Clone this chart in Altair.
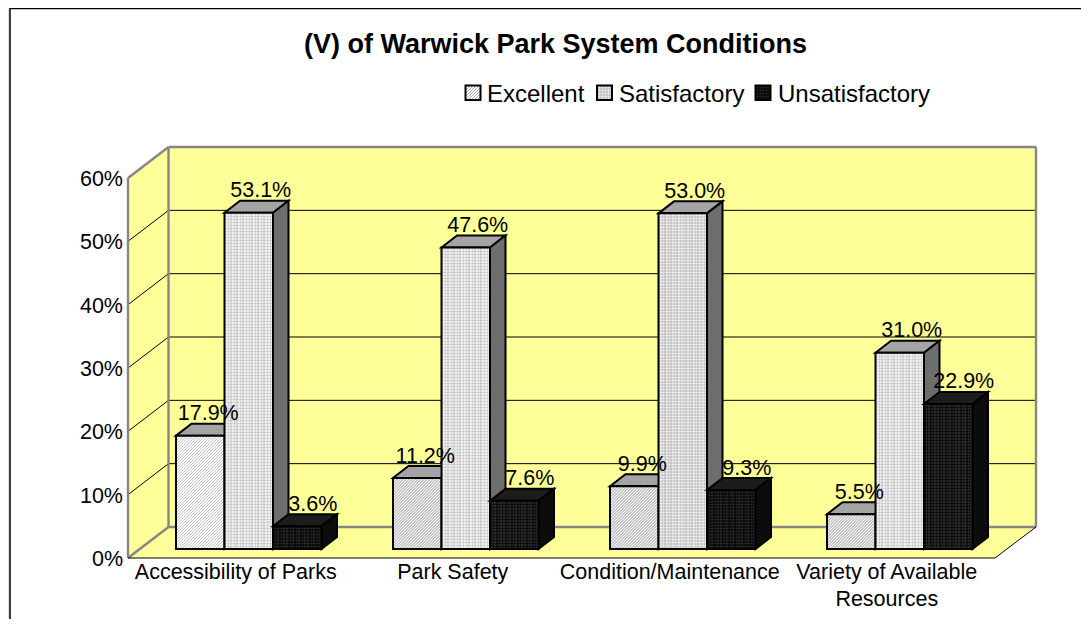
import math
import altair as alt
import pandas as pd

categories = ["Accessibility of Parks", "Park Safety", "Condition/Maintenance", "Variety of Available\nResources"]
series = ["Excellent", "Satisfactory", "Unsatisfactory"]
excellent = [17.9, 11.2, 9.9, 5.5]
satisfactory = [53.1, 47.6, 53.0, 31.0]
unsatisfactory = [3.6, 7.6, 9.3, 22.9]
ticks = [0, 10, 20, 30, 40, 50, 60]
title_text = "(V) of Warwick Park System Conditions"

W, H = 1073, 611
PX_X, PX_Y = 217.0, 6.333            # pixels per group, pixels per percent
x_scale = alt.Scale(domain=[-168 / PX_X, (W - 168) / PX_X], nice=False, zero=False)
y_scale = alt.Scale(domain=[(541 - H) / PX_Y, 541 / PX_Y], nice=False, zero=False)

BAR_W = 48.5 / PX_X
DEPTH_X, DEPTH_Y = 15.5 / PX_X, 12 / PX_Y
FL, BL, FR, BR = -48 / PX_X, -7.5 / PX_X, 819 / PX_X, 860 / PX_X
F0, B0 = -9 / PX_Y, 22 / PX_Y
YELLOW = "#FFFF99"
GREY = "#868686"
FONT = "Liberation Sans"


def X(): return alt.X("x:Q", scale=x_scale, axis=None)
def Y(): return alt.Y("y:Q", scale=y_scale, axis=None)
def Y2(): return alt.Y2("y2:Q")
def X2(): return alt.X2("x2:Q")


def stripe_stops(length, period, a, b):
    stops = []
    n = math.ceil(length / period)
    for k in range(n):
        o0, o1, o2 = k * period / length, (k + .5) * period / length, (k + 1) * period / length
        for off, col in ((o0, a), (o1, a), (o1, b), (o2, b)):
            stops.append({"offset": round(min(off, 1), 5), "color": col})
    return stops


def diag(w, h, a, b):
    k = (w + h) / (w * w + h * h)
    return {"gradient": "linear", "x1": 0, "y1": 0, "x2": round(k * w, 6), "y2": round(k * h, 6),
            "stops": stripe_stops(w + h, 3, a, b)}


def vert(w, a, b):
    return {"gradient": "linear", "x1": 0, "y1": 0, "x2": 1, "y2": 0, "stops": stripe_stops(w, 3, a, b)}


def horiz(h, a, b):
    return {"gradient": "linear", "x1": 0, "y1": 0, "x2": 0, "y2": 1, "stops": stripe_stops(h, 3, a, b)}


def box(x0, x1, y0, y1, **mark):
    d = pd.DataFrame({"x": [x0], "x2": [x1], "y": [y0], "y2": [y1]})
    return alt.Chart(d).mark_rect(**mark).encode(x=X(), x2=X2(), y=Y(), y2=Y2())


def poly(points, fill, stroke=None, sw=2):
    d = pd.DataFrame(points, columns=["x", "y", "y2"])
    kw = {"fill": fill, "opacity": 1, "strokeJoin": "miter"}
    if stroke:
        kw.update(stroke=stroke, strokeWidth=sw)
    return alt.Chart(d).mark_area(**kw).encode(x=X(), y=Y(), y2=Y2())


def seg(x0, y0, x1, y1, color, sw):
    d = pd.DataFrame({"x": [x0, x1], "y": [y0, y1]})
    return alt.Chart(d).mark_line(color=color, strokeWidth=sw, clip=False).encode(
        x=X(), y=Y(), order=alt.Order("o:Q")).transform_calculate(o="datum.x")


def fills(j, w, h):
    """Patterned layers of one front face (px size w×h)."""
    if j == 0:
        return [diag(w, h, "#fafafa", "#c6c6c6")]
    if j == 1:
        return ["#f0f0f0", vert(w, "rgba(140,140,140,0.24)", "rgba(140,140,140,0)"),
                horiz(h, "rgba(140,140,140,0.24)", "rgba(140,140,140,0)")]
    return ["#2a2a2a", vert(w, "rgba(0,0,0,0.5)", "rgba(0,0,0,0)"), horiz(h, "rgba(0,0,0,0.5)", "rgba(0,0,0,0)")]


TOP = ["#a4a4a4", "#a4a4a4", "#1c1c1c"]
SIDE = ["#6e6e6e", "#6e6e6e", "#0c0c0c"]
LABEL_DX = [8, 12, 15.5]

layers = []
# walls
layers.append(poly([(FL, 60 + F0, F0), (BL, 60 + B0, B0)], YELLOW))
layers.append(poly([(FL, F0, F0), (BL, B0, F0), (FR, B0, F0), (BR, B0, B0)], YELLOW))
layers.append(box(BL, BR, B0, 60 + B0, fill=YELLOW))
# gridlines
for t in ticks[1:-1]:
    layers.append(seg(BL, t + B0, BR, t + B0, "#000000", 1))
    layers.append(seg(FL, t + F0, BL, t + B0, "#000000", 1))
# wall edges
for a in [(FL, 60 + F0, BL, 60 + B0), (FL, F0, BL, B0), (FL, F0, FL, 60 + F0), (BL, B0, BL, 60 + B0),
          (BL, 60 + B0, BR, 60 + B0), (BR, B0, BR, 60 + B0), (BL, B0, BR, B0)]:
    layers.append(seg(a[0], a[1], a[2], a[3], GREY, 2.4))
layers.append(seg(FL, F0, FR, F0, "#000000", 1))
layers.append(seg(FR, F0, BR, B0, "#000000", 1))

# bars
all_values = [excellent, satisfactory, unsatisfactory]
for i in range(len(categories)):
    for j, vals in enumerate(all_values):
        v = vals[i]
        x0 = i + j * BAR_W
        x1 = x0 + BAR_W
        layers.append(poly([(x0, v, v), (x0 + DEPTH_X, v + DEPTH_Y, v), (x1, v + DEPTH_Y, v),
                            (x1 + DEPTH_X, v + DEPTH_Y, v + DEPTH_Y)], TOP[j], "#000000"))
        layers.append(poly([(x1, v, 0), (x1 + DEPTH_X, v + DEPTH_Y, DEPTH_Y)], SIDE[j], "#000000"))
        for f in fills(j, BAR_W * PX_X, v * PX_Y):
            layers.append(box(x0, x1, 0, v, fill=f))
        layers.append(box(x0, x1, 0, v, fillOpacity=0, fill="#ffffff", stroke="#000000", strokeWidth=2))

# value labels
for j, vals in enumerate(all_values):
    d = pd.DataFrame({"x": [i + (j + .5) * BAR_W for i in range(len(vals))],
                      "y": [v + DEPTH_Y for v in vals],
                      "t": [f"{v:.1f}%" for v in vals]})
    layers.append(alt.Chart(d).mark_text(font=FONT, fontSize=21.5, color="#000000", baseline="alphabetic",
                                         dx=LABEL_DX[j], dy=-3.5).encode(x=X(), y=Y(), text="t:N"))

# tick labels
d = pd.DataFrame({"x": [FL] * len(ticks), "y": [t + F0 for t in ticks], "t": [f"{t}%" for t in ticks]})
layers.append(alt.Chart(d).mark_text(font=FONT, fontSize=21.5, align="right", baseline="middle", dx=-5, dy=2, color="#000000")
              .encode(x=X(), y=Y(), text="t:N"))

# category labels
d = pd.DataFrame({"x": [i + 1.5 * BAR_W - 13 / PX_X for i in range(4)], "y": [F0] * 4, "t": categories})
layers.append(alt.Chart(d).mark_text(font=FONT, fontSize=21.5, align="center", baseline="alphabetic", dy=21,
                                     lineBreak="\n", lineHeight=27, color="#000000")
              .encode(x=X(), y=Y(), text="t:N"))

# legend
swatch_x = [457.5, 589, 747.5]
text_x = [479, 611, 770]
for j, name in enumerate(series):
    s = [diag(15, 15, "#ffffff", "#b0b0b0")] if j == 0 else fills(j, 15, 15)
    px = swatch_x[j]
    for f in s:
        layers.append(alt.Chart(pd.DataFrame({"a": [1]})).mark_rect(fill=f).encode(
            x=alt.value(px), x2=alt.value(px + 15), y=alt.value(77.5), y2=alt.value(92)))
    layers.append(alt.Chart(pd.DataFrame({"a": [1]})).mark_rect(fillOpacity=0, fill="#fff", stroke="#000", strokeWidth=2).encode(
        x=alt.value(px), x2=alt.value(px + 15), y=alt.value(77.5), y2=alt.value(92)))
    layers.append(alt.Chart(pd.DataFrame({"t": [name]})).mark_text(
        font=FONT, fontSize=24, align="left", baseline="alphabetic", color="#000000").encode(
        x=alt.value(text_x[j]), y=alt.value(93.5), text="t:N"))

# frame
layers.append(alt.Chart(pd.DataFrame({"a": [1]})).mark_rule(color="#000000", strokeWidth=1.5).encode(
    x=alt.value(2), y=alt.value(0), y2=alt.value(H)))
layers.append(alt.Chart(pd.DataFrame({"a": [1]})).mark_rule(color="#000000", strokeWidth=1.5).encode(
    x=alt.value(2), x2=alt.value(W), y=alt.value(0.5)))

chart = alt.layer(*layers).properties(
    width=W, height=H, padding=0,
    autosize=alt.AutoSizeParams(type="none"),
    title=alt.TitleParams(title_text, font=FONT, fontSize=27, fontWeight="bold", anchor="middle",
                          color="#000000", dy=56, dx=11),
).configure_view(stroke=None).configure(background="#ffffff")

chart.save("out.html", embed_options={"renderer": "svg", "actions": False})
